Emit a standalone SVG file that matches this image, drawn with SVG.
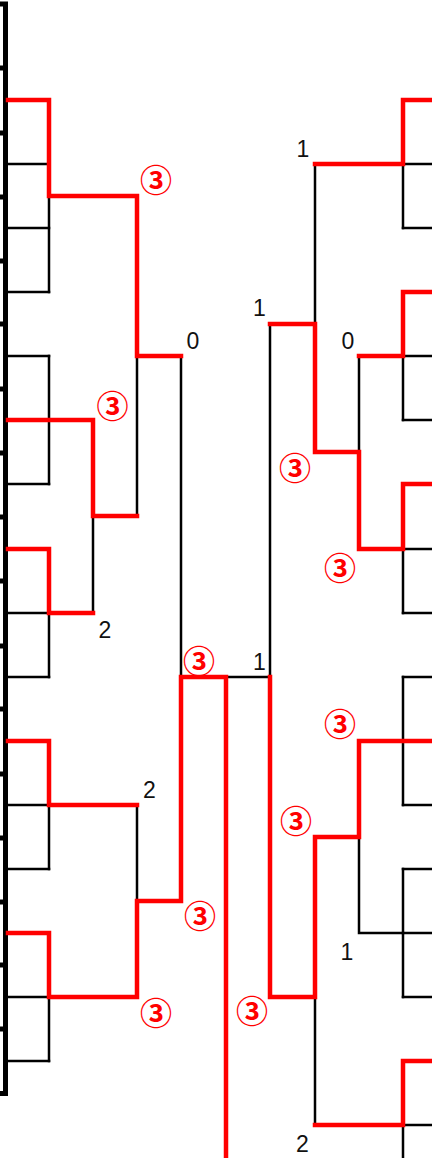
<svg xmlns="http://www.w3.org/2000/svg" width="432" height="1158" viewBox="0 0 432 1158">
<style>
.b{fill:none;stroke:#000;stroke-width:2.5;stroke-linecap:square}
.r{fill:none;stroke:#ff0000;stroke-width:4.5;stroke-linecap:square;stroke-linejoin:miter}
.t{fill:none;stroke:#000;stroke-width:5}
.n{font-family:"Liberation Sans",Arial,sans-serif;font-size:23px;fill:#111;text-anchor:middle}
.c{font-family:"Noto Sans CJK JP","Noto Sans CJK SC",sans-serif;font-size:32px;font-weight:bold;fill:#ff0000;text-anchor:middle}
</style>
<rect width="432" height="1158" fill="#fff"/>
<g id="frame">
<path class="t" d="M5.5 2V1096M0 4H8M0 1093.5H8"/>
<path class="t" d="M0 68H8M0 133H8M0 197H8M0 261H8M0 324H8M0 389H8M0 453H8M0 517H8M0 581H8M0 646H8M0 709H8M0 774H8M0 838H8M0 902H8M0 965H8M0 1029H8"/>
</g>
<g id="connectors">
<g id="black-lines">
<path class="b" d="M8 100H49M8 164H49M8 228H49M8 292H49M8 356H49M8 420H49M8 484H49M8 549H49M8 613H49M8 677H49M8 741H49M8 805H49M8 869H49M8 933H49M8 997H49M8 1061H49"/>
<path class="b" d="M49 100V292M49 356V484M49 549V677M49 741V869M49 933V1061"/>
<path class="b" d="M93 420V613M137 196V516M137 805V997M181 356V901M226 677H270"/>
<path class="b" d="M403 100H432M403 164H432M403 228H432M403 292H432M403 356H432M403 420H432M403 484H432M403 549H432M403 613H432M403 677H432M403 741H432M403 805H432M403 869H432M403 933H432M403 997H432M403 1061H432M403 1125H432"/>
<path class="b" d="M403 100V228M403 292V420M403 484V613M403 677V805M403 869V997M403 1061V1160"/>
<path class="b" d="M359 356V549M315 164V452M270 324V677M359 741V933H403M315 837V1125"/>
</g>
<g id="red-lines">
<path class="r" d="M8 100H49V196H137V356H181"/>
<path class="r" d="M8 420H93V516H137"/>
<path class="r" d="M8 549H49V613H93"/>
<path class="r" d="M8 741H49V805H137"/>
<path class="r" d="M8 933H49V997H137V901H181V677H226V1160"/>
<path class="r" d="M432 100H403V164H315"/>
<path class="r" d="M432 292H403V356H359"/>
<path class="r" d="M432 484H403V549H359V452H315V324H270"/>
<path class="r" d="M432 741H359V837H315V997H270V677"/>
<path class="r" d="M432 1061H403V1125H315"/>
</g>
</g>
<g id="labels">
<text class="n" x="193" y="349">0</text>
<text class="n" x="105" y="638">2</text>
<text class="n" x="149.5" y="798">2</text>
<text class="n" x="303" y="157">1</text>
<text class="n" x="259.5" y="316">1</text>
<text class="n" x="348" y="349">0</text>
<text class="n" x="259.5" y="670">1</text>
<text class="n" x="347" y="960">1</text>
<text class="n" x="302.5" y="1152">2</text>
<text class="c" x="156" y="192">③</text>
<text class="c" x="112.5" y="417.5">③</text>
<text class="c" x="199" y="672.5">③</text>
<text class="c" x="200" y="928">③</text>
<text class="c" x="156" y="1024.5">③</text>
<text class="c" x="295" y="479.5">③</text>
<text class="c" x="340" y="579.5">③</text>
<text class="c" x="340" y="736">③</text>
<text class="c" x="296" y="833">③</text>
<text class="c" x="252" y="1023">③</text>
</g>
</svg>
